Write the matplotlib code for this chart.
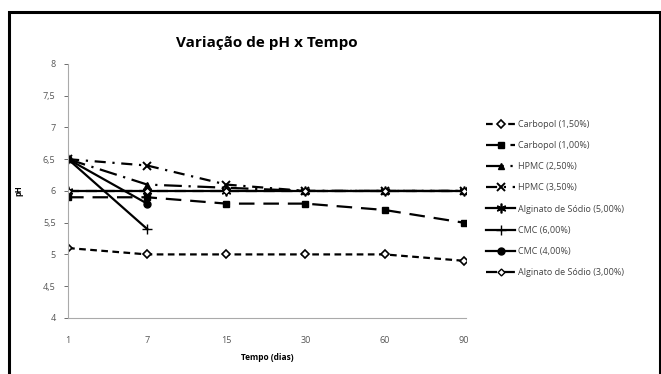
import matplotlib.pyplot as plt
from matplotlib.patches import Rectangle

plt.rcParams['font.family'] = ['Open Sans', 'DejaVu Sans']

tempo = ['1', '7', '15', '30', '60', '90']

carbopol_150 = [5.1, 5.0, 5.0, 5.0, 5.0, 4.9]
carbopol_100 = [5.9, 5.9, 5.8, 5.8, 5.7, 5.5]
hpmc_250 = [6.5, 6.1, 6.05, 6.0, 6.0, 6.0]
hpmc_350 = [6.5, 6.4, 6.1, 6.0, 6.0, 6.0]
alginato_500 = [6.0, 6.0, 6.0, 6.0, 6.0, 6.0]
cmc_600 = [6.5, 5.4]
cmc_400 = [6.5, 5.8]
alginato_300 = [6.0, 6.0, 6.0, 6.0, 6.0, 6.0]

yticks = [4, 4.5, 5, 5.5, 6, 6.5, 7, 7.5, 8]
ylabels = ['4', '4,5', '5', '5,5', '6', '6,5', '7', '7,5', '8']

fig = plt.figure(figsize=(6.61, 3.74), dpi=100)
ax = fig.add_axes([0.103, 0.150, 0.602, 0.679])

x = range(len(tempo))
k = dict(color='black', lw=1.6)
ax.plot(x, alginato_500, ls='-', marker=(6, 2, 0), ms=7, mew=1.2, label='Alginato de Sódio (5,00%)', zorder=2, **k)
ax.plot(x, carbopol_150, ls=(0, (3, 2)), marker='D', ms=4.5, mfc='white', mew=1.2, label='Carbopol (1,50%)', **k)
ax.plot(x, carbopol_100, ls=(0, (7, 4)), marker='s', ms=5, label='Carbopol (1,00%)', **k)
ax.plot(x, hpmc_250, ls=(0, (8, 3, 1, 3)), marker='^', ms=5, label='HPMC (2,50%)', **k)
ax.plot(x, hpmc_350, ls=(0, (5, 3, 1, 3)), marker='x', ms=6, mew=1.4, label='HPMC (3,50%)', **k)
ax.plot(x[:2], cmc_600, ls='-', marker='+', ms=7, label='CMC (6,00%)', **k)
ax.plot(x[:2], cmc_400, ls='-', marker='o', ms=5, label='CMC (4,00%)', **k)
ax.plot(x, alginato_300, ls=(0, (5, 3)), marker='D', ms=3.5, mfc='white', mew=1.0, label='Alginato de Sódio (3,00%)', **k)

ax.set_xlim(0, 5.03)
ax.set_ylim(4, 8)
ax.set_xticks(list(x))
ax.set_xticklabels(tempo)
ax.set_yticks(yticks)
ax.set_yticklabels(ylabels)
ax.tick_params(axis='both', labelsize=6.5, colors='#555555', length=3, width=0.6)
ax.tick_params(axis='x', length=0, pad=13)
ax.tick_params(axis='y', pad=6)
for s in ['top', 'right']:
    ax.spines[s].set_visible(False)
for s in ['left', 'bottom']:
    ax.spines[s].set_color('#aaaaaa')
    ax.spines[s].set_linewidth(0.8)

ax.set_title('Variação de pH x Tempo', fontsize=11, fontweight='bold', pad=12)
ax.set_xlabel('Tempo (dias)', fontsize=6, fontweight='bold', labelpad=6)
ax.set_ylabel('pH', fontsize=5.5, fontweight='bold', labelpad=14)

h, l = ax.get_legend_handles_labels()
order = [1, 2, 3, 4, 0, 5, 6, 7]
ax.legend([h[i] for i in order], [l[i] for i in order], loc='center left',
          bbox_to_anchor=(1.03, 0.47), frameon=False, fontsize=6.5,
          labelspacing=1.35, handlelength=3.2, handletextpad=0.3, labelcolor='#444444')

fig.patches.append(Rectangle((0.014, -0.1), 0.985, 1.068, transform=fig.transFigure,
                             fill=False, ec='black', lw=2.2))

fig.savefig('out.png', dpi=100)
